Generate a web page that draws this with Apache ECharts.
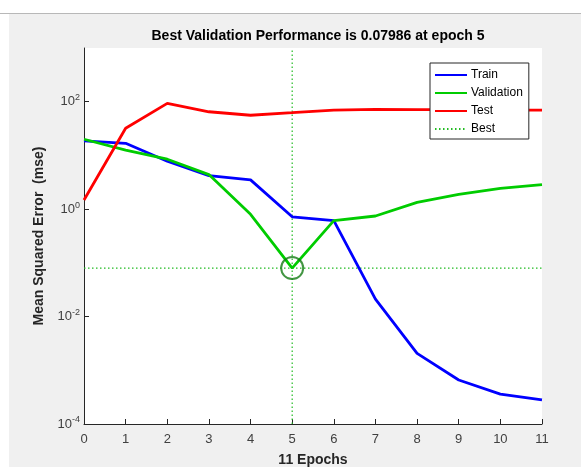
<!DOCTYPE html>
<html>
<head>
<meta charset="utf-8">
<script src="https://cdn.jsdelivr.net/npm/echarts@6/dist/echarts.min.js"></script>
<style>
html,body{margin:0;padding:0;background:#f0f0f0;}
#chart{width:581px;height:467px;}
</style>
</head>
<body>
<div id="chart"></div>
<script>
const epochs = [0,1,2,3,4,5,6,7,8,9,10,11];
const train = [18.6,16.8,7.8,4.2,3.5,0.72,0.61,0.0212,0.00206,0.00066,0.00036,0.00028];
const validation = [20,12.6,8.5,4.4,0.80,0.07986,0.61,0.745,1.34,1.89,2.44,2.85];
const test = [1.48,32,93,65,56,62.5,70,72,71,71,70,70];
const bestEpoch = 5;
const bestValue = 0.07986;
const xTicks = [0,1,2,3,4,5,6,7,8,9,10,11];
const yTickExponents = [-4,-2,0,2];

const pair = (xs, ys) => xs.map((x, i) => [x, ys[i]]);
const font = '"Liberation Sans", Arial, sans-serif';
const bestGreen = '#22bb22';

const chart = echarts.init(document.getElementById('chart'), null, {renderer: 'canvas'});
chart.setOption({
  backgroundColor: '#f0f0f0',
  animation: false,
  graphic: [
    {type: 'rect', shape: {x: 0, y: 0, width: 581, height: 13}, style: {fill: '#ffffff'}, silent: true},
    {type: 'rect', shape: {x: 0, y: 0, width: 9, height: 467}, style: {fill: '#ffffff'}, silent: true},
    {type: 'rect', shape: {x: 0, y: 13, width: 581, height: 1}, style: {fill: '#b8b8b8'}, silent: true}
  ],
  title: {
    text: 'Best Validation Performance is ' + bestValue + ' at epoch ' + bestEpoch,
    left: 313, textAlign: 'center', top: 24,
    textStyle: {fontFamily: font, fontSize: 14, fontWeight: 'bold', color: '#000'}
  },
  legend: {
    orient: 'vertical', left: 430, top: 63,
    width: 98,
    padding: [6, 6, 4, 4],
    itemGap: 6, itemWidth: 32, itemHeight: 12,
    backgroundColor: '#ffffff', borderColor: '#262626', borderWidth: 1, borderRadius: 0,
    itemStyle: {opacity: 0},
    textStyle: {fontFamily: font, fontSize: 12, color: '#000', padding: [0, 0, 0, -1]},
    data: ['Train', 'Validation', 'Test', 'Best']
  },
  grid: {left: 84, right: 39, top: 48, bottom: 43, show: true, backgroundColor: '#ffffff', borderWidth: 0,
    containLabel: false, outerBoundsMode: 'none'},
  xAxis: {
    type: 'value', min: 0, max: 11, interval: 1,
    name: '11 Epochs', nameLocation: 'middle', nameGap: 29,
    nameTextStyle: {fontFamily: font, fontSize: 14, fontWeight: 'bold', color: '#262626'},
    axisLine: {show: true, onZero: false, lineStyle: {color: '#262626', width: 1}},
    axisTick: {show: true, inside: true, length: 5, lineStyle: {color: '#262626'}},
    axisLabel: {fontFamily: font, fontSize: 13, color: '#404040', margin: 9,
      formatter: v => xTicks.includes(v) ? String(v) : ''},
    splitLine: {show: false}
  },
  yAxis: {
    type: 'log', logBase: 10, min: 1e-4, max: 1e3, interval: 2,
    name: 'Mean Squared Error  (mse)', nameLocation: 'middle', nameGap: 37,
    nameTextStyle: {fontFamily: font, fontSize: 14, fontWeight: 'bold', color: '#262626'},
    axisLine: {show: true, lineStyle: {color: '#262626', width: 1}},
    axisTick: {show: true, inside: true, length: 5, lineStyle: {color: '#262626'}},
    axisLabel: {
      fontFamily: font, fontSize: 13, color: '#404040', margin: 4, showMaxLabel: false,
      formatter: v => {
        const e = Math.round(Math.log10(v));
        return yTickExponents.includes(e) ? '10{sup|' + e + '}' : '';
      },
      rich: {sup: {fontFamily: font, fontSize: 9, color: '#404040', verticalAlign: 'top', padding: [0, 0, 8, 0]}}
    },
    splitLine: {show: false}
  },
  series: [
    {name: 'Train', type: 'line', data: pair(epochs, train), symbol: 'none',
      lineStyle: {color: '#0000ff', width: 2.8}, itemStyle: {color: '#0000ff'}, z: 3},
    {name: 'Validation', type: 'line', data: pair(epochs, validation), symbol: 'none',
      lineStyle: {color: '#00cc00', width: 2.8}, itemStyle: {color: '#00cc00'}, z: 3},
    {name: 'Test', type: 'line', data: pair(epochs, test), symbol: 'none',
      lineStyle: {color: '#ff0000', width: 2.8}, itemStyle: {color: '#ff0000'}, z: 3},
    {name: 'Best', type: 'line', data: [[0, bestValue], [11, bestValue]], symbol: 'none', color: bestGreen,
      lineStyle: {color: bestGreen, width: 1.2, type: [1.5, 2.5]}, itemStyle: {color: bestGreen}, z: 2},
    {name: 'BestV', type: 'line', data: [[bestEpoch, 1e-4], [bestEpoch, 1e3]], symbol: 'none', color: bestGreen,
      lineStyle: {color: bestGreen, width: 1.2, type: [1.5, 2.5]}, itemStyle: {color: bestGreen}, z: 2},
    {name: 'BestMark', type: 'scatter', data: [[bestEpoch, bestValue]], symbol: 'circle', symbolSize: 22,
      itemStyle: {color: 'rgba(0,0,0,0)', borderColor: '#137a13', borderWidth: 2}, z: 4}
  ]
});
</script>
</body>
</html>
